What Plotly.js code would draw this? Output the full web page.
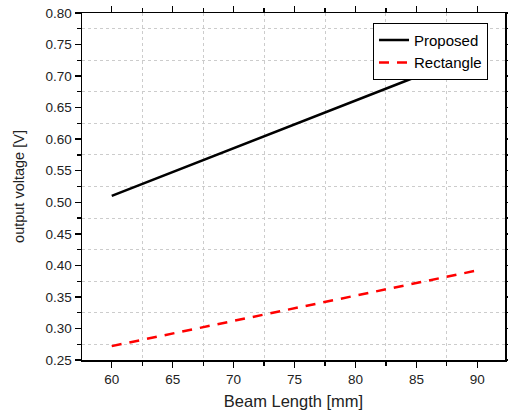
<!DOCTYPE html>
<html>
<head>
<meta charset="utf-8">
<script src="https://cdn.plot.ly/plotly-3.0.1.min.js"></script>
<style>html,body{margin:0;padding:0;background:#fff;}#chart{width:508px;height:413px;}</style>
</head>
<body>
<div id="chart"></div>
<script>
const beamLength = [60, 65, 70, 75, 80, 85, 90];
const proposed = [0.510, 0.548, 0.586, 0.624, 0.662, 0.699, 0.736];
const rectangle = [0.272, 0.292, 0.312, 0.332, 0.352, 0.372, 0.392];
const xTitle = 'Beam Length [mm]';
const yTitle = 'output voltage [V]';

const fontFam = 'Liberation Sans, Arial, sans-serif';
const data = [
  {x: beamLength, y: proposed, name: 'Proposed', mode: 'lines', type: 'scatter',
   line: {color: '#000000', width: 2.5}},
  {x: beamLength, y: rectangle, name: 'Rectangle', mode: 'lines', type: 'scatter',
   line: {color: '#ff0000', width: 2.5, dash: '10px,8px'}}
];
const axisCommon = {
  showline: true, linecolor: '#000', linewidth: 1.5, mirror: 'allticks',
  ticks: 'outside', ticklen: 6, tickwidth: 1.5, tickcolor: '#000',
  showgrid: false, zeroline: false,
  tickfont: {family: fontFam, size: 13.5, color: '#222'}
};
const layout = {
  width: 508, height: 413,
  margin: {l: 82, r: 3, t: 13, b: 53},
  paper_bgcolor: '#fff', plot_bgcolor: '#fff',
  showlegend: true,
  legend: {x: 0.688, y: 0.972, xanchor: 'left', yanchor: 'top',
    bgcolor: '#fff', bordercolor: '#000', borderwidth: 1,
    font: {family: fontFam, size: 15, color: '#000'}, tracegroupgap: 0},
  xaxis: Object.assign({}, axisCommon, {
    range: [57.56, 92.27], tickmode: 'linear', tick0: 60, dtick: 5,
    title: {text: xTitle, font: {family: fontFam, size: 16.5, color: '#222'}, standoff: 9},
    minor: {tick0: 62.5, dtick: 5, ticks: 'outside', ticklen: 4, tickcolor: '#000', tickwidth: 1.2,
      showgrid: true, gridcolor: '#cccccc', griddash: 'dot', gridwidth: 1}
  }),
  yaxis: Object.assign({}, axisCommon, {
    range: [0.25, 0.80], tickmode: 'linear', tick0: 0.25, dtick: 0.05, tickformat: '.2f',
    title: {text: yTitle, font: {family: fontFam, size: 14.5, color: '#222'}, standoff: 17},
    minor: {tick0: 0.275, dtick: 0.05, ticks: 'outside', ticklen: 4, tickcolor: '#000', tickwidth: 1.2,
      showgrid: true, gridcolor: '#cccccc', griddash: 'dot', gridwidth: 1}
  })
};
Plotly.newPlot('chart', data, layout, {displayModeBar: false, staticPlot: true});
</script>
</body>
</html>
